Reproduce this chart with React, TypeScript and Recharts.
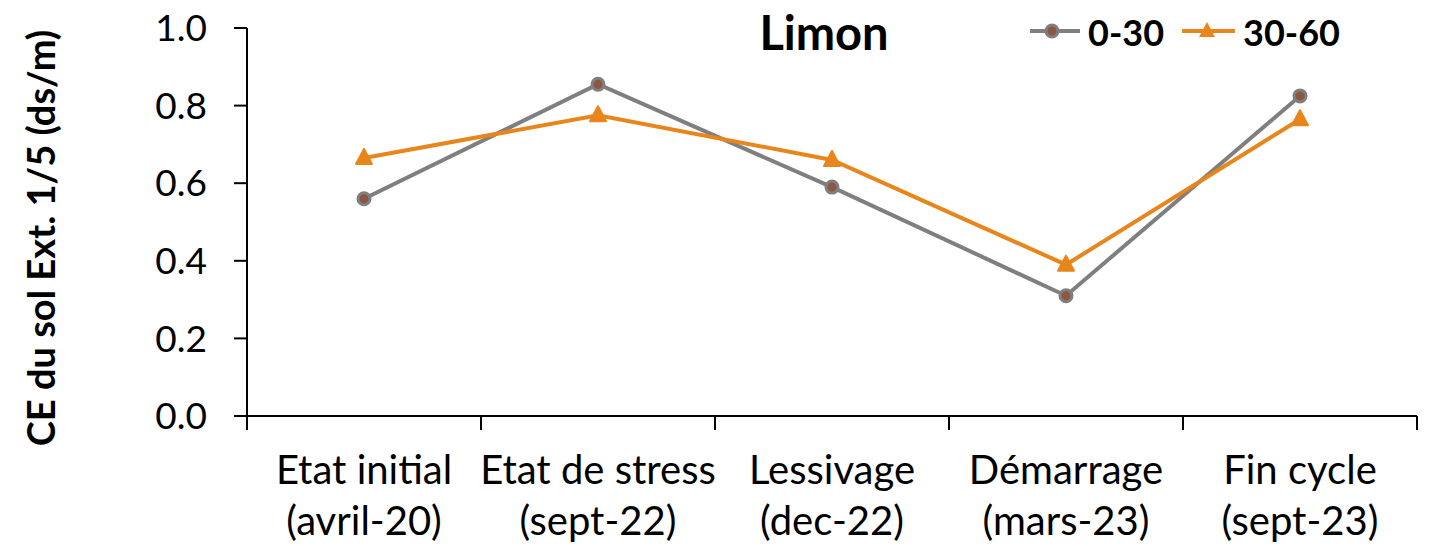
import { LineChart, XAxis, YAxis, Line, Legend } from 'recharts';

const catTop = ['Etat initial', 'Etat de stress', 'Lessivage', 'Démarrage', 'Fin cycle'];
const catBottom = ['(avril-20)', '(sept-22)', '(dec-22)', '(mars-23)', '(sept-23)'];
const serie030 = [0.56, 0.855, 0.59, 0.31, 0.825];
const serie3060 = [0.665, 0.775, 0.66, 0.39, 0.765];
const yTicks = [0, 0.2, 0.4, 0.6, 0.8, 1.0];
const xTicks = [0, 0.5, 1, 1.5, 2, 2.5, 3, 3.5, 4, 4.5, 5];

const data = catTop.map((c, i) => ({
  pos: i + 0.5,
  name: c,
  s1: serie030[i],
  s2: serie3060[i],
}));

const FONT = 'Lato, "Open Sans", sans-serif';
const GRAY = '#7f7f7f';
const ORANGE = '#e8851b';
const AXIS_Y = 416;

const CatTick = (props: any) => {
  const { x, payload } = props;
  const v = payload.value;
  if (Number.isInteger(v)) {
    return <line x1={x} x2={x} y1={AXIS_Y} y2={AXIS_Y + 14} stroke="#000" strokeWidth={2} />;
  }
  const i = Math.floor(v);
  return (
    <text x={x} textAnchor="middle" fontFamily={FONT} fontSize={40} fill="#000">
      <tspan x={x} y={AXIS_Y + 68}>{catTop[i]}</tspan>
      <tspan x={x} y={AXIS_Y + 119}>{catBottom[i]}</tspan>
    </text>
  );
};

const CircleDot = (props: any) => {
  const { cx, cy, index } = props;
  return <circle key={'c' + index} cx={cx} cy={cy} r={6} fill="#8b5742" stroke={GRAY} strokeWidth={3} />;
};

const TriDot = (props: any) => {
  const { cx, cy, index } = props;
  return (
    <path
      key={'t' + index}
      d={`M${cx},${cy - 9} L${cx + 8},${cy + 6} L${cx - 8},${cy + 6} Z`}
      fill={ORANGE}
      stroke={ORANGE}
      strokeWidth={2}
      strokeLinejoin="round"
    />
  );
};

const YLabel = () => (
  <text
    x={40}
    y={238}
    transform="rotate(-90, 40, 238)"
    textAnchor="middle"
    dominantBaseline="central"
    fontFamily={FONT}
    fontWeight="bold"
    fontSize={38}
    fill="#000"
  >
    CE du sol Ext. 1/5 (ds/m)
  </text>
);

const renderLegend = () => (
  <svg width={340} height={60}>
    <line x1={10} x2={60} y1={31} y2={31} stroke={GRAY} strokeWidth={4} />
    <circle cx={32} cy={31} r={6} fill="#8b5742" stroke={GRAY} strokeWidth={3} />
    <text x={68} y={32} dominantBaseline="central" fontFamily={FONT} fontWeight="bold" fontSize={36} fill="#000">
      0-30
    </text>
    <line x1={162} x2={215} y1={31} y2={31} stroke={ORANGE} strokeWidth={4} />
    <path d="M187,22 L195,37 L179,37 Z" fill={ORANGE} />
    <text x={223} y={32} dominantBaseline="central" fontFamily={FONT} fontWeight="bold" fontSize={36} fill="#000">
      30-60
    </text>
  </svg>
);

const App = () => {
  return (
    <div style={{ position: 'absolute', left: 0, top: 0, width: 1432, height: 546, background: '#fff' }}>
      <div
        style={{
          position: 'absolute',
          left: 824,
          top: 32,
          transform: 'translate(-50%, -50%)',
          fontFamily: FONT,
          fontWeight: 'bold',
          fontSize: 47,
          lineHeight: 1,
          zIndex: 2,
        }}
      >
        Limon
      </div>
      <LineChart width={1432} height={546} data={data} margin={{ top: 28, right: 15, left: 0, bottom: 0 }}>
        <XAxis
          dataKey="pos"
          type="number"
          domain={[0, 5]}
          ticks={xTicks}
          interval={0}
          height={130}
          tickLine={false}
          tickSize={0}
          tickMargin={0}
          axisLine={{ stroke: '#000', strokeWidth: 2 }}
          tick={CatTick}
        />
        <YAxis
          width={247}
          domain={[0, 1]}
          ticks={yTicks}
          interval={0}
          tickFormatter={(v: number) => v.toFixed(1)}
          tickSize={13}
          tickMargin={27}
          tickLine={{ stroke: '#000', strokeWidth: 2 }}
          axisLine={{ stroke: '#000', strokeWidth: 2 }}
          tick={{ fill: '#000', fontSize: 37, fontFamily: FONT }}
          label={<YLabel />}
        />
        <Legend
          layout="horizontal"
          verticalAlign="middle"
          align="center"
          content={renderLegend}
          wrapperStyle={{ position: 'absolute', left: 1020, top: 0, width: 340, height: 60 }}
        />
        <Line
          dataKey="s1"
          name="0-30"
          stroke={GRAY}
          strokeWidth={4}
          dot={CircleDot}
          activeDot={false}
          isAnimationActive={false}
        />
        <Line
          dataKey="s2"
          name="30-60"
          stroke={ORANGE}
          strokeWidth={4}
          dot={TriDot}
          activeDot={false}
          isAnimationActive={false}
        />
      </LineChart>
    </div>
  );
};

export default App;
